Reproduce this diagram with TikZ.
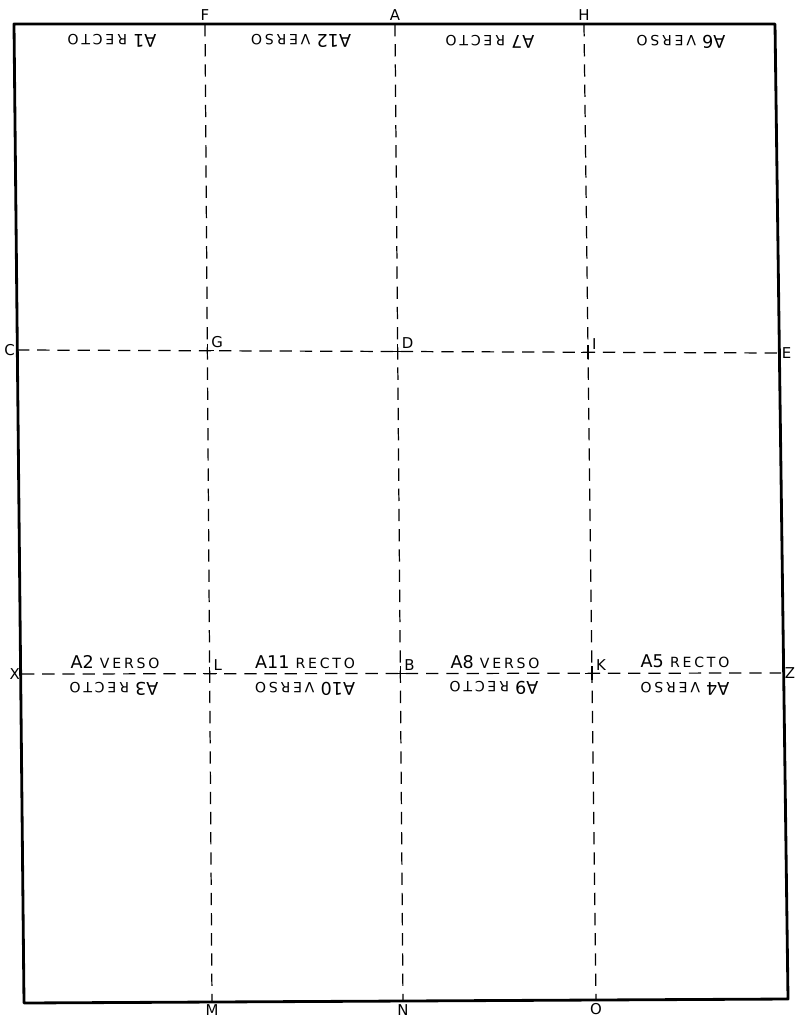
\documentclass[tikz,border=0pt]{standalone}
\usepackage{fontspec}
\setmainfont{DejaVu Sans}
\usepackage{tikz}
\usetikzlibrary{calc,positioning}
\newcommand{\pglabel}[2]{#1\hspace{0.35em}{\fontsize{8}{8}\selectfont\addfontfeature{LetterSpace=20}#2}}
\tikzset{
  fedge/.style={black, line width=1.6pt, line join=round},
  ffold/.style={black, dash pattern=on 7pt off 4.5pt, line width=0.7pt},
  fcross/.style={black, line width=0.7pt},
  fpt/.style={font=\fontsize{8.5}{8.5}\selectfont, inner sep=1pt},
  fpage/.style={font=\fontsize{10}{10}\selectfont, inner sep=0pt},
  fflip/.style={fpage, rotate=180},
}
\begin{document}
\begin{tikzpicture}[x=0.02cm,y=-0.02cm]
  \useasboundingbox (0,0) rectangle (796,1023);

  % sheet corners
  \coordinate (tl) at (14,24);
  \coordinate (tr) at (775,24);
  \coordinate (br) at (788,999);
  \coordinate (bl) at (24,1003);

  % fold ends
  \coordinate (F) at (205,24);  \coordinate (M) at (212,1001);
  \coordinate (A) at (395,24);  \coordinate (N) at (403,1001);
  \coordinate (H) at (584,24);  \coordinate (O) at (596,1000);
  \coordinate (C) at (17,350);  \coordinate (E) at (778,353);
  \coordinate (X) at (22,674);  \coordinate (Z) at (781,673);

  % crossings
  \coordinate (G) at (intersection of F--M and C--E);
  \coordinate (D) at (intersection of A--N and C--E);
  \coordinate (I) at (intersection of H--O and C--E);
  \coordinate (L) at (intersection of F--M and X--Z);
  \coordinate (B) at (intersection of A--N and X--Z);
  \coordinate (K) at (intersection of H--O and X--Z);

  % folds
  \foreach \a/\b in {F/M, A/N, H/O, C/E, X/Z}
    \draw[ffold] (\a) -- (\b);
  \foreach \c in {G,D,I,L,B,K}{
    \draw[fcross] ($(\c)+(-7,0)$) -- ($(\c)+(7,0)$);
    \draw[fcross] ($(\c)+(0,-7)$) -- ($(\c)+(0,7)$);
  }

  % sheet
  \draw[fedge] (tl) -- (tr) -- (br) -- (bl) -- cycle;

  % point letters
  \foreach \p in {F,A,H}
    \node[fpt, above=1pt] (l\p) at (\p) {\p};
  \foreach \p in {M,N,O}
    \node[fpt, below=1pt] (l\p) at (\p) {\p};
  \foreach \p in {C,X}
    \node[fpt, left=0pt] (l\p) at (\p) {\p};
  \foreach \p in {E,Z}
    \node[fpt, right=1pt] (l\p) at (\p) {\p};
  \foreach \p in {G,D,I,L,B,K}
    \node[fpt, anchor=south west] (l\p) at ($(\p)+(2,-1)$) {\p};

  % upside-down pages, top row
  \node[fflip] (p1)  at (112,41) {\pglabel{A1}{RECTO}};
  \node[fflip] (p12) at (301,41) {\pglabel{A12}{VERSO}};
  \node[fflip] (p7)  at (490,42) {\pglabel{A7}{RECTO}};
  \node[fflip] (p6)  at (681,42) {\pglabel{A6}{VERSO}};

  % upright pages above X--Z
  \node[fpage] (p2)  at (115,662) {\pglabel{A2}{VERSO}};
  \node[fpage] (p11) at (305,662) {\pglabel{A11}{RECTO}};
  \node[fpage] (p8)  at (495,662) {\pglabel{A8}{VERSO}};
  \node[fpage] (p5)  at (685,661) {\pglabel{A5}{RECTO}};

  % upside-down pages below X--Z
  \node[fflip] (p3)  at (114,689) {\pglabel{A3}{RECTO}};
  \node[fflip] (p10) at (305,689) {\pglabel{A10}{VERSO}};
  \node[fflip] (p9)  at (494,688) {\pglabel{A9}{RECTO}};
  \node[fflip] (p4)  at (685,689) {\pglabel{A4}{VERSO}};

\end{tikzpicture}
\end{document}
